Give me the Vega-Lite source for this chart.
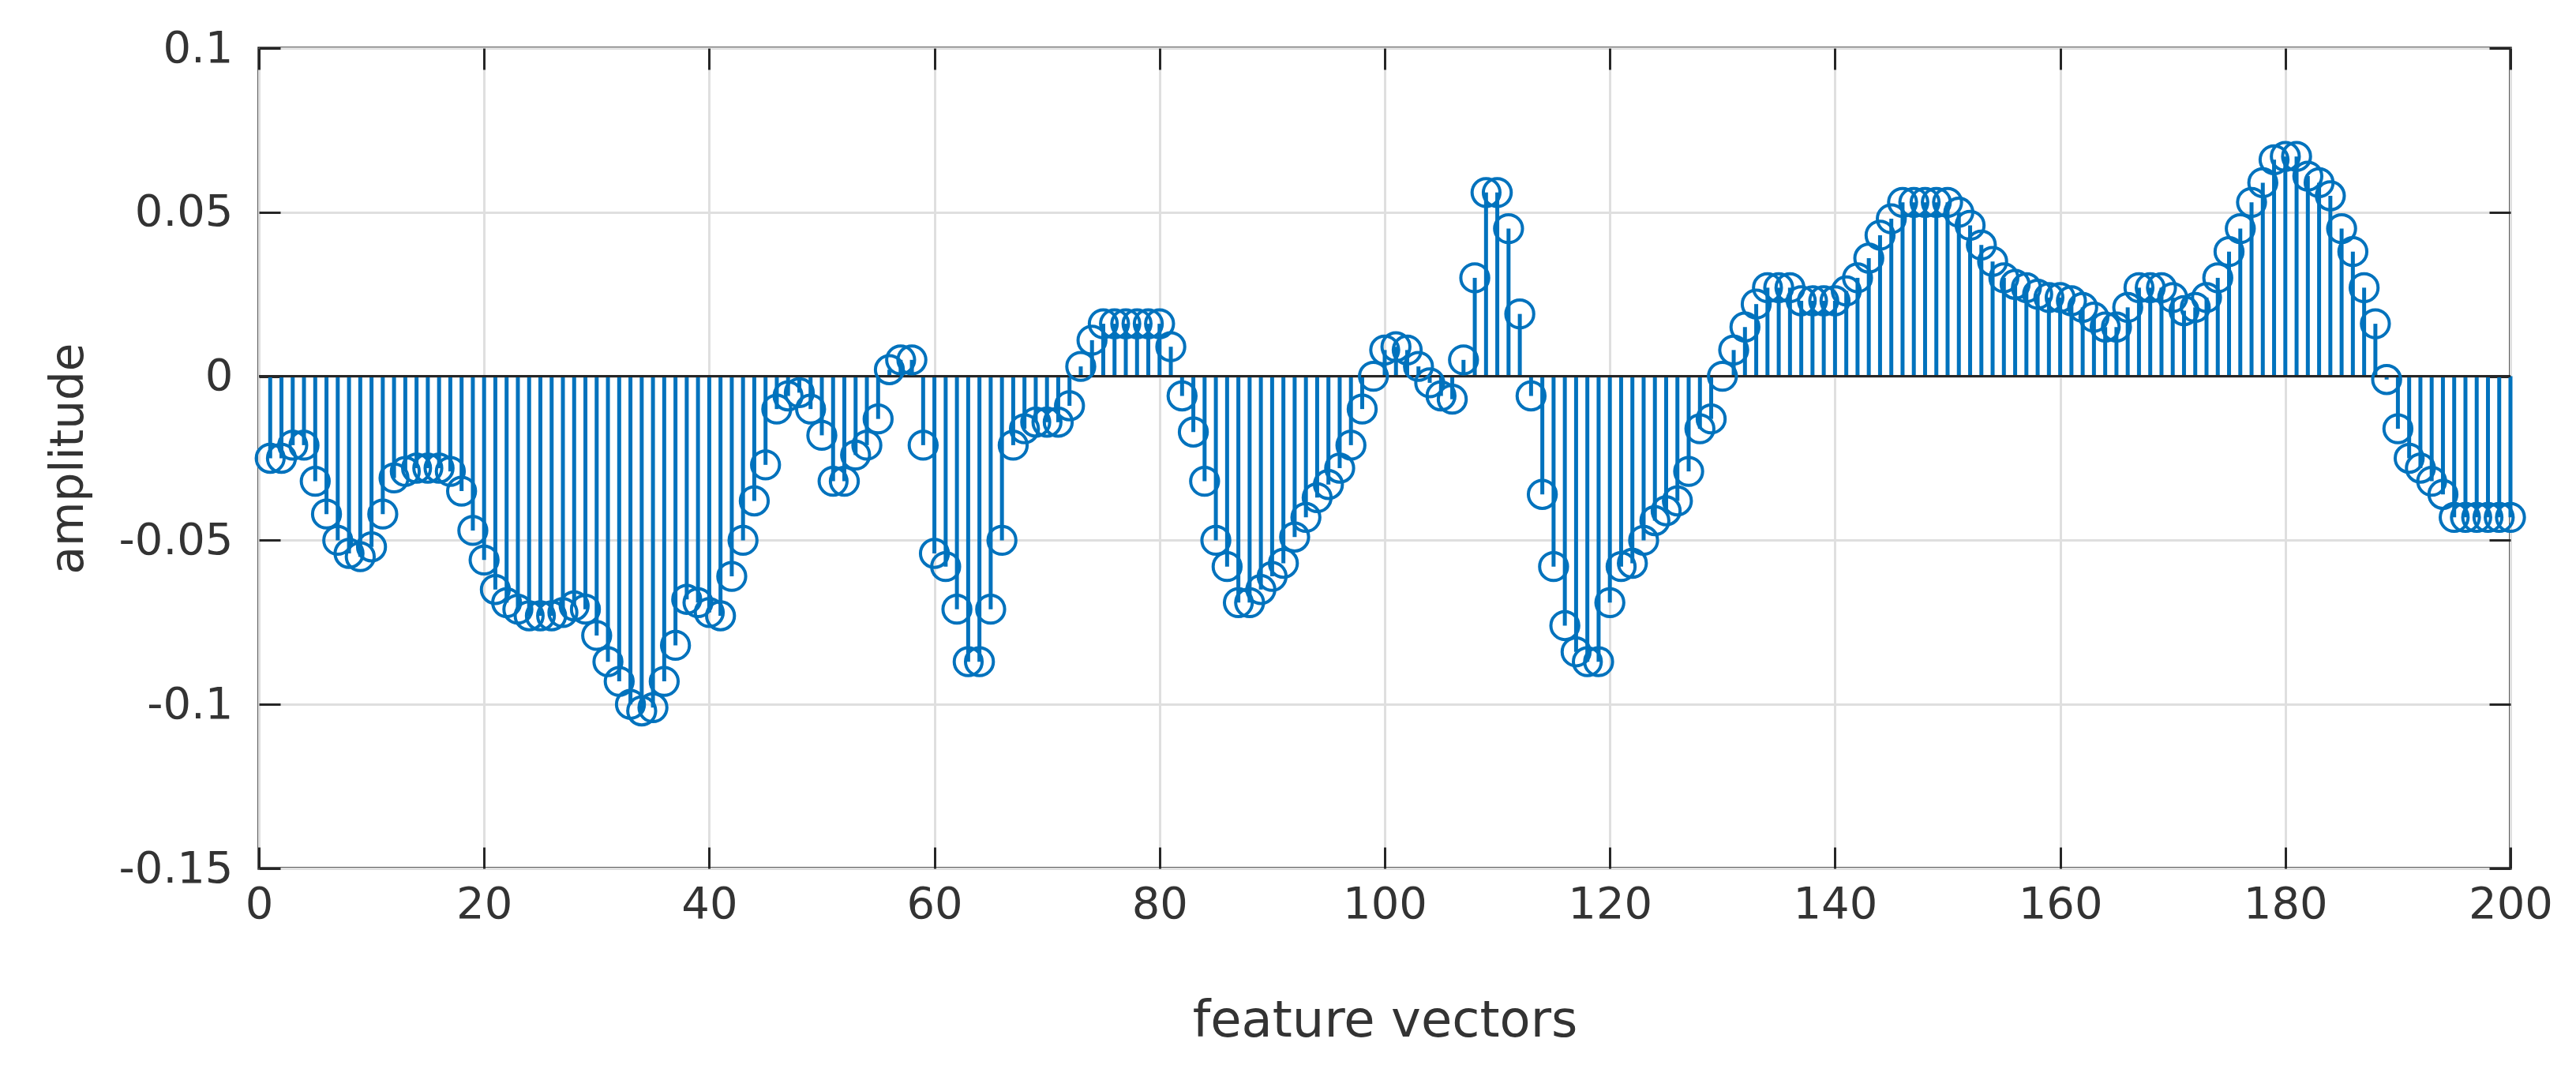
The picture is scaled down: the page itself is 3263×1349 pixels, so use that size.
{
  "$schema": "https://vega.github.io/schema/vega-lite/v6.json",
  "autosize": "none",
  "width": 2852,
  "height": 1039,
  "padding": {"left": 328, "top": 61, "right": 83, "bottom": 249},
  "background": "white",
  "config": {
    "view": {"stroke": "#262626", "strokeWidth": 3.5},
    "axis": {
      "labelFont": "DejaVu Sans",
      "titleFont": "DejaVu Sans",
      "labelColor": "#333333",
      "titleColor": "#333333",
      "labelFontSize": 56,
      "titleFontSize": 64,
      "titleFontWeight": "normal",
      "tickColor": "#262626",
      "tickWidth": 3,
      "tickSize": -27,
      "labelFlush": false,
      "domain": false,
      "gridColor": "#dfdfdf",
      "gridWidth": 3
    }
  },
  "data": {
    "values": [
      {"x":1,"v":-0.025},{"x":2,"v":-0.025},{"x":3,"v":-0.021},{"x":4,"v":-0.021},{"x":5,"v":-0.032},
      {"x":6,"v":-0.042},{"x":7,"v":-0.05},{"x":8,"v":-0.054},{"x":9,"v":-0.055},{"x":10,"v":-0.052},
      {"x":11,"v":-0.042},{"x":12,"v":-0.031},{"x":13,"v":-0.029},{"x":14,"v":-0.028},{"x":15,"v":-0.028},
      {"x":16,"v":-0.028},{"x":17,"v":-0.029},{"x":18,"v":-0.035},{"x":19,"v":-0.047},{"x":20,"v":-0.056},
      {"x":21,"v":-0.065},{"x":22,"v":-0.069},{"x":23,"v":-0.071},{"x":24,"v":-0.073},{"x":25,"v":-0.073},
      {"x":26,"v":-0.073},{"x":27,"v":-0.072},{"x":28,"v":-0.07},{"x":29,"v":-0.071},{"x":30,"v":-0.079},
      {"x":31,"v":-0.087},{"x":32,"v":-0.093},{"x":33,"v":-0.1},{"x":34,"v":-0.102},{"x":35,"v":-0.101},
      {"x":36,"v":-0.093},{"x":37,"v":-0.082},{"x":38,"v":-0.068},{"x":39,"v":-0.069},{"x":40,"v":-0.072},
      {"x":41,"v":-0.073},{"x":42,"v":-0.061},{"x":43,"v":-0.05},{"x":44,"v":-0.038},{"x":45,"v":-0.027},
      {"x":46,"v":-0.01},{"x":47,"v":-0.006},{"x":48,"v":-0.005},{"x":49,"v":-0.01},{"x":50,"v":-0.018},
      {"x":51,"v":-0.032},{"x":52,"v":-0.032},{"x":53,"v":-0.024},{"x":54,"v":-0.021},{"x":55,"v":-0.013},
      {"x":56,"v":0.002},{"x":57,"v":0.005},{"x":58,"v":0.005},{"x":59,"v":-0.021},{"x":60,"v":-0.054},
      {"x":61,"v":-0.058},{"x":62,"v":-0.071},{"x":63,"v":-0.087},{"x":64,"v":-0.087},{"x":65,"v":-0.071},
      {"x":66,"v":-0.05},{"x":67,"v":-0.021},{"x":68,"v":-0.016},{"x":69,"v":-0.014},{"x":70,"v":-0.014},
      {"x":71,"v":-0.014},{"x":72,"v":-0.009},{"x":73,"v":0.003},{"x":74,"v":0.011},{"x":75,"v":0.016},
      {"x":76,"v":0.016},{"x":77,"v":0.016},{"x":78,"v":0.016},{"x":79,"v":0.016},{"x":80,"v":0.016},
      {"x":81,"v":0.009},{"x":82,"v":-0.006},{"x":83,"v":-0.017},{"x":84,"v":-0.032},{"x":85,"v":-0.05},
      {"x":86,"v":-0.058},{"x":87,"v":-0.069},{"x":88,"v":-0.069},{"x":89,"v":-0.065},{"x":90,"v":-0.061},
      {"x":91,"v":-0.057},{"x":92,"v":-0.049},{"x":93,"v":-0.043},{"x":94,"v":-0.037},{"x":95,"v":-0.033},
      {"x":96,"v":-0.028},{"x":97,"v":-0.021},{"x":98,"v":-0.01},{"x":99,"v":0.0},{"x":100,"v":0.008},
      {"x":101,"v":0.009},{"x":102,"v":0.008},{"x":103,"v":0.003},{"x":104,"v":-0.002},{"x":105,"v":-0.006},
      {"x":106,"v":-0.007},{"x":107,"v":0.005},{"x":108,"v":0.03},{"x":109,"v":0.056},{"x":110,"v":0.056},
      {"x":111,"v":0.045},{"x":112,"v":0.019},{"x":113,"v":-0.006},{"x":114,"v":-0.036},{"x":115,"v":-0.058},
      {"x":116,"v":-0.076},{"x":117,"v":-0.084},{"x":118,"v":-0.087},{"x":119,"v":-0.087},{"x":120,"v":-0.069},
      {"x":121,"v":-0.058},{"x":122,"v":-0.057},{"x":123,"v":-0.05},{"x":124,"v":-0.044},{"x":125,"v":-0.041},
      {"x":126,"v":-0.038},{"x":127,"v":-0.029},{"x":128,"v":-0.016},{"x":129,"v":-0.013},{"x":130,"v":0.0},
      {"x":131,"v":0.008},{"x":132,"v":0.015},{"x":133,"v":0.022},{"x":134,"v":0.027},{"x":135,"v":0.027},
      {"x":136,"v":0.027},{"x":137,"v":0.023},{"x":138,"v":0.023},{"x":139,"v":0.023},{"x":140,"v":0.023},
      {"x":141,"v":0.026},{"x":142,"v":0.03},{"x":143,"v":0.036},{"x":144,"v":0.043},{"x":145,"v":0.048},
      {"x":146,"v":0.053},{"x":147,"v":0.053},{"x":148,"v":0.053},{"x":149,"v":0.053},{"x":150,"v":0.053},
      {"x":151,"v":0.05},{"x":152,"v":0.046},{"x":153,"v":0.04},{"x":154,"v":0.035},{"x":155,"v":0.03},
      {"x":156,"v":0.028},{"x":157,"v":0.027},{"x":158,"v":0.025},{"x":159,"v":0.024},{"x":160,"v":0.024},
      {"x":161,"v":0.023},{"x":162,"v":0.021},{"x":163,"v":0.018},{"x":164,"v":0.015},{"x":165,"v":0.015},
      {"x":166,"v":0.021},{"x":167,"v":0.027},{"x":168,"v":0.027},{"x":169,"v":0.027},{"x":170,"v":0.024},
      {"x":171,"v":0.02},{"x":172,"v":0.021},{"x":173,"v":0.024},{"x":174,"v":0.03},{"x":175,"v":0.038},
      {"x":176,"v":0.045},{"x":177,"v":0.053},{"x":178,"v":0.059},{"x":179,"v":0.066},{"x":180,"v":0.067},
      {"x":181,"v":0.067},{"x":182,"v":0.061},{"x":183,"v":0.059},{"x":184,"v":0.055},{"x":185,"v":0.045},
      {"x":186,"v":0.038},{"x":187,"v":0.027},{"x":188,"v":0.016},{"x":189,"v":-0.001},{"x":190,"v":-0.016},
      {"x":191,"v":-0.025},{"x":192,"v":-0.028},{"x":193,"v":-0.032},{"x":194,"v":-0.036},{"x":195,"v":-0.043},
      {"x":196,"v":-0.043},{"x":197,"v":-0.043},{"x":198,"v":-0.043},{"x":199,"v":-0.043},{"x":200,"v":-0.043}
    ]
  },
  "resolve": {"axis": {"x": "independent", "y": "independent"}},
  "layer": [
    {
      "mark": {"type": "rule", "color": "#0072BD", "strokeWidth": 5},
      "encoding": {
        "x": {
          "field": "x", "type": "quantitative",
          "scale": {"domain": [0, 200], "nice": false, "zero": false},
          "axis": {
            "orient": "bottom", "values": [0, 20, 40, 60, 80, 100, 120, 140, 160, 180, 200],
            "title": "feature vectors", "labelPadding": 45, "titlePadding": 88, "grid": true
          }
        },
        "y": {
          "field": "v", "type": "quantitative",
          "scale": {"domain": [-0.15, 0.1], "nice": false, "zero": false},
          "axis": {
            "orient": "left", "values": [-0.15, -0.1, -0.05, 0, 0.05, 0.1],
            "labelExpr": "replace(format(datum.value, '~g'), '−', '-')",
            "title": "amplitude", "titleFontSize": 58, "labelPadding": 60, "titlePadding": 34, "grid": true
          }
        },
        "y2": {"datum": 0}
      }
    },
    {
      "mark": {"type": "rule", "color": "#262626", "strokeWidth": 3},
      "encoding": {"y": {"datum": 0, "type": "quantitative", "axis": null}}
    },
    {
      "mark": {"type": "point", "shape": "circle", "filled": false, "color": "#0072BD", "size": 1250, "strokeWidth": 4, "opacity": 1},
      "encoding": {
        "x": {
          "field": "x", "type": "quantitative",
          "axis": {"orient": "top", "values": [0, 20, 40, 60, 80, 100, 120, 140, 160, 180, 200], "labels": false, "title": null, "grid": false}
        },
        "y": {
          "field": "v", "type": "quantitative",
          "axis": {"orient": "right", "values": [-0.15, -0.1, -0.05, 0, 0.05, 0.1], "labels": false, "title": null, "grid": false}
        }
      }
    }
  ]
}
